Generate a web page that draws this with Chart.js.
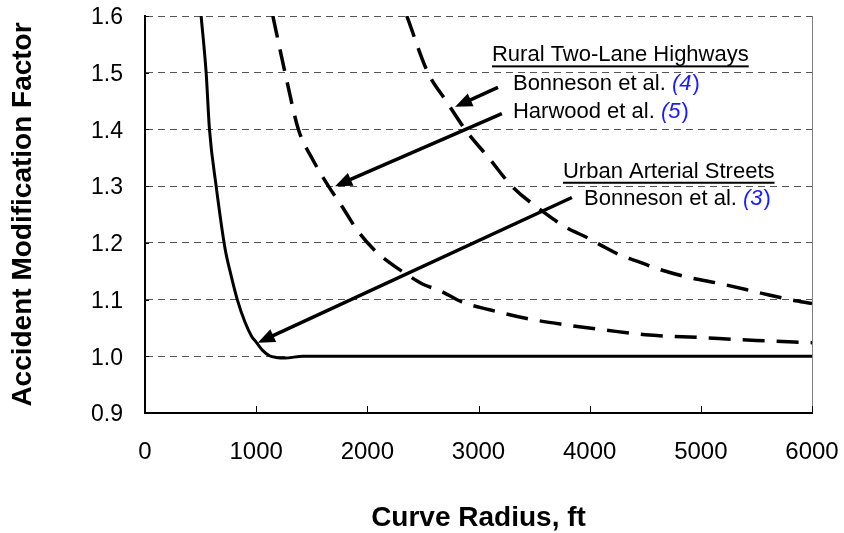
<!DOCTYPE html>
<html>
<head>
<meta charset="utf-8">
<script src="https://cdn.jsdelivr.net/npm/chart.js@4.4.1/dist/chart.umd.min.js"></script>
<style>
  html, body { margin: 0; padding: 0; background: #fff; }
</style>
</head>
<body>
<canvas id="amfChart" width="844" height="533"></canvas>
<script>
// Urban arterial streets, Bonneson et al. (3) - solid
const urbanRadius = [505, 550, 580, 640, 720, 765, 830, 900, 960, 1000, 1060, 1120, 1180, 1260, 1420, 6000];
const urbanAmf    = [1.6, 1.5, 1.4, 1.3, 1.19, 1.15, 1.1, 1.06, 1.035, 1.025, 1.01, 1.001, 0.998, 0.997, 1.0, 1.0];

// Rural two-lane, Harwood et al. (5) - lower dashed
const harwoodRadius = [1150, 1260, 1380, 1500, 1650, 1780, 1900, 2050, 2200, 2350, 2500, 2650, 2860, 3100, 3450, 3800, 4150, 4500, 5000, 5500, 6000];
const harwoodAmf    = [1.6, 1.5, 1.4, 1.35, 1.3, 1.262, 1.225, 1.19, 1.165, 1.145, 1.127, 1.116, 1.095, 1.082, 1.066, 1.055, 1.046, 1.038, 1.033, 1.028, 1.024];

// Rural two-lane, Bonneson et al. (4) - upper dashed
const bonnesonRadius = [2355, 2545, 2710, 2880, 3100, 3300, 3580, 3800, 3980, 4100, 4290, 4450, 4600, 4850, 5200, 5550, 5800, 6000];
const bonnesonAmf    = [1.6, 1.5, 1.45, 1.4, 1.348, 1.3, 1.255, 1.226, 1.209, 1.196, 1.177, 1.166, 1.155, 1.141, 1.127, 1.111, 1.1, 1.093];

// arrows, in data units (start -> tip)
const arrowStartR   = [3175, 3210, 3840];
const arrowStartAmf = [1.474, 1.428, 1.28];
const arrowTipR     = [2790, 1710, 1015];
const arrowTipAmf   = [1.44, 1.30, 1.024];

// notes: text, reference number, left edge and baseline in data units
const noteText  = ['Rural Two-Lane Highways', 'Bonneson et al.', 'Harwood et al.', 'Urban Arterial Streets', 'Bonneson et al.'];
const noteRef   = ['', '4', '5', '', '3'];
const noteR     = [3121, 3310, 3310, 3760, 3949];
const noteAmf   = [1.520, 1.4694, 1.4195, 1.3148, 1.2659];
const noteTitle = [true, false, false, true, false];

const FONT = "'Liberation Sans', Arial, sans-serif";

function toPoints(xs, ys) {
  return xs.map((r, i) => ({ x: r, y: ys[i] }));
}

const extras = {
  id: 'extras',
  afterDatasetsDraw(chart) {
    const { ctx, chartArea: a, scales: { x, y } } = chart;
    ctx.save();

    // thin grey frame on the right
    ctx.strokeStyle = '#808080';
    ctx.lineWidth = 1;
    ctx.beginPath();
    ctx.moveTo(a.right + 0.5, a.top);
    ctx.lineTo(a.right + 0.5, a.bottom);
    ctx.stroke();

    // inside tick marks
    ctx.strokeStyle = '#000';
    x.ticks.forEach(t => {
      const px = Math.round(x.getPixelForValue(t.value)) + 0.5;
      ctx.beginPath();
      ctx.moveTo(px, a.bottom);
      ctx.lineTo(px, a.bottom - 7);
      ctx.stroke();
    });
    y.ticks.forEach(t => {
      const py = Math.round(y.getPixelForValue(t.value)) + 0.5;
      ctx.beginPath();
      ctx.moveTo(a.left, py);
      ctx.lineTo(a.left + 4, py);
      ctx.stroke();
    });

    // arrows
    ctx.fillStyle = '#000';
    ctx.lineWidth = 3.5;
    ctx.lineCap = 'butt';
    for (let i = 0; i < arrowStartR.length; i++) {
      const x0 = x.getPixelForValue(arrowStartR[i]);
      const y0 = y.getPixelForValue(arrowStartAmf[i]);
      const x1 = x.getPixelForValue(arrowTipR[i]);
      const y1 = y.getPixelForValue(arrowTipAmf[i]);
      const ang = Math.atan2(y1 - y0, x1 - x0);
      const head = 17, half = 7;
      const bx = x1 - head * Math.cos(ang);
      const by = y1 - head * Math.sin(ang);
      ctx.beginPath();
      ctx.moveTo(x0, y0);
      ctx.lineTo(bx + 2 * Math.cos(ang), by + 2 * Math.sin(ang));
      ctx.stroke();
      ctx.beginPath();
      ctx.moveTo(x1, y1);
      ctx.lineTo(bx + half * Math.sin(ang), by - half * Math.cos(ang));
      ctx.lineTo(bx - half * Math.sin(ang), by + half * Math.cos(ang));
      ctx.closePath();
      ctx.fill();
    }

    // notes
    ctx.textBaseline = 'alphabetic';
    ctx.textAlign = 'left';
    for (let i = 0; i < noteText.length; i++) {
      const px = x.getPixelForValue(noteR[i]);
      const py = y.getPixelForValue(noteAmf[i]);
      ctx.font = '22px ' + FONT;
      ctx.fillStyle = '#000';
      ctx.fillText(noteText[i], px, py);
      let w = ctx.measureText(noteText[i]).width;
      if (noteTitle[i]) {
        ctx.fillRect(px, py + 4, w, 2);
      }
      if (noteRef[i]) {
        w += ctx.measureText(' ').width;
        ctx.fillStyle = '#1a1aff';
        ctx.font = 'italic 22px ' + FONT;
        const s = '(' + noteRef[i];
        ctx.fillText(s, px + w, py);
        w += ctx.measureText(s).width + 1;
        ctx.font = '22px ' + FONT;
        ctx.fillText(')', px + w, py);
      }
    }
    ctx.restore();
  }
};

const ctx = document.getElementById('amfChart').getContext('2d');
const amfChart = new Chart(ctx, {
  type: 'line',
  data: {
    datasets: [
      {
        label: 'Bonneson et al. (3)',
        data: toPoints(urbanRadius, urbanAmf),
        borderColor: '#000',
        borderWidth: 3,
        pointRadius: 0,
        cubicInterpolationMode: 'monotone'
      },
      {
        label: 'Harwood et al. (5)',
        data: toPoints(harwoodRadius, harwoodAmf),
        borderColor: '#000',
        borderWidth: 3.5,
        borderDash: [22, 12],
        pointRadius: 0,
        cubicInterpolationMode: 'monotone'
      },
      {
        label: 'Bonneson et al. (4)',
        data: toPoints(bonnesonRadius, bonnesonAmf),
        borderColor: '#000',
        borderWidth: 3.5,
        borderDash: [22, 12],
        pointRadius: 0,
        cubicInterpolationMode: 'monotone'
      }
    ]
  },
  options: {
    responsive: false,
    animation: false,
    layout: { padding: { left: 0, top: 16, right: 32, bottom: 0 } },
    plugins: {
      legend: { display: false },
      tooltip: { enabled: false }
    },
    scales: {
      x: {
        type: 'linear',
        min: 0,
        max: 6000,
        afterFit(scale) {
          scale.height = 120;
          scale.paddingLeft = 0;
          scale.paddingRight = 0;
        },
        grid: { display: false, drawTicks: false },
        border: { display: true, color: '#000', width: 2 },
        ticks: {
          stepSize: 1000,
          padding: 25,
          color: '#000',
          font: { family: FONT, size: 24 },
          callback: v => String(v)
        },
        title: {
          display: true,
          text: 'Curve Radius, ft',
          color: '#000',
          font: { family: FONT, size: 28, weight: 'bold', lineHeight: 1 },
          padding: { top: 0, bottom: 1 }
        }
      },
      y: {
        min: 0.9,
        max: 1.6,
        afterFit(scale) {
          scale.width = 145;
          scale.paddingTop = 0;
          scale.paddingBottom = 0;
        },
        grid: { color: '#555', lineWidth: 1, drawTicks: false },
        border: { display: true, color: '#000', width: 2, dash: [7, 5] },
        ticks: {
          stepSize: 0.1,
          padding: 22,
          labelOffset: 2,
          color: '#000',
          font: { family: FONT, size: 23 },
          callback: v => Number(v).toFixed(1)
        },
        title: {
          display: true,
          text: 'Accident Modification Factor',
          color: '#000',
          font: { family: FONT, size: 28, weight: 'bold', lineHeight: 1 },
          padding: { top: 9, bottom: 0 }
        }
      }
    }
  },
  plugins: [extras]
});
</script>
</body>
</html>
